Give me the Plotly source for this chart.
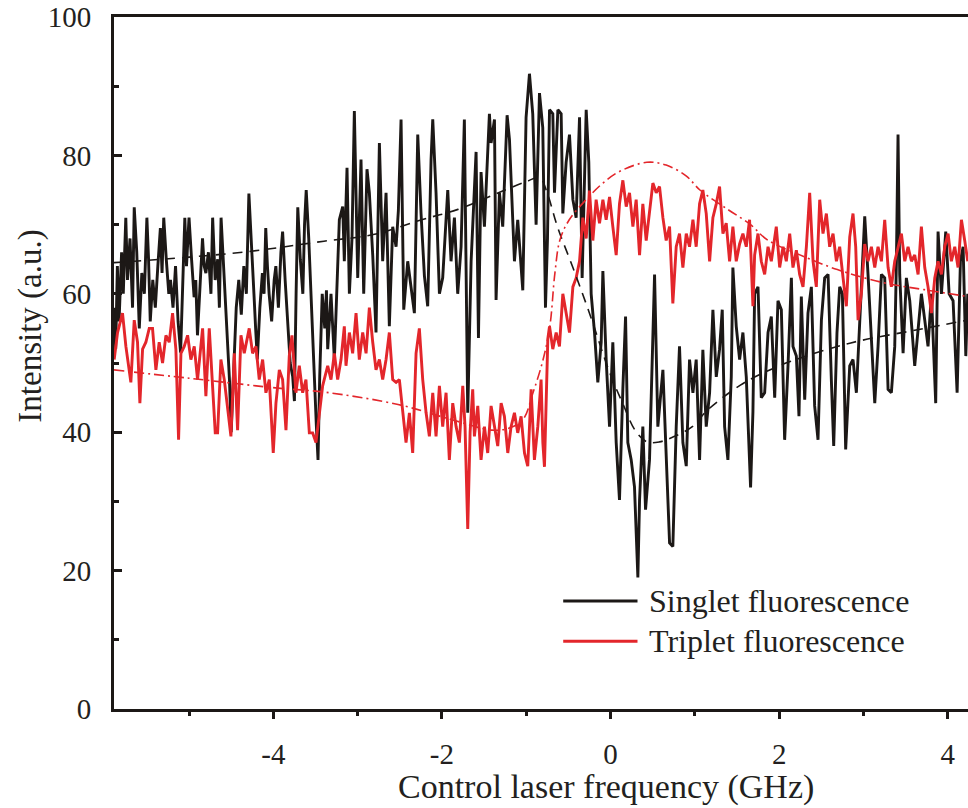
import plotly.graph_objects as go

# ---------------- data ----------------
singlet_x = [
    -5.89, -5.87, -5.85, -5.83, -5.80, -5.78, -5.75, -5.73, -5.70, -5.67, -5.65, -5.62, -5.59, -5.56,
    -5.53, -5.50, -5.48, -5.46, -5.43, -5.40, -5.37, -5.34, -5.32, -5.30, -5.27, -5.24, -5.22, -5.19,
    -5.16, -5.13, -5.10, -5.08, -5.05, -5.03, -5.00, -4.97, -4.94, -4.92, -4.90, -4.87, -4.84, -4.82,
    -4.80, -4.77, -4.74, -4.72, -4.69, -4.66, -4.64, -4.62, -4.60, -4.58, -4.55, -4.52, -4.50, -4.47,
    -4.44, -4.41, -4.38, -4.35, -4.32, -4.29, -4.26, -4.23, -4.21, -4.19, -4.16, -4.13, -4.11, -4.09,
    -4.07, -4.05, -4.02, -3.99, -3.97, -3.94, -3.91, -3.89, -3.86, -3.83, -3.80, -3.77, -3.75, -3.73,
    -3.71, -3.68, -3.65, -3.63, -3.61, -3.58, -3.55, -3.52, -3.49, -3.47, -3.45, -3.42, -3.39, -3.37,
    -3.355, -3.316, -3.276, -3.217, -3.177, -3.158, -3.126, -3.098, -3.067, -3.039, -2.999, -2.960,
    -2.928, -2.889, -2.861, -2.821, -2.782, -2.742, -2.703, -2.663, -2.624, -2.584, -2.544, -2.517,
    -2.485, -2.453, -2.406, -2.366, -2.327, -2.287, -2.248, -2.208, -2.169, -2.129, -2.109, -2.070,
    -2.030, -1.991, -1.931, -1.892, -1.852, -1.813, -1.773, -1.734, -1.694, -1.654, -1.595, -1.567,
    -1.536, -1.496, -1.437, -1.417, -1.377, -1.358, -1.318, -1.279, -1.227, -1.199, -1.160, -1.140,
    -1.101, -1.041, -1.002, -0.962, -0.923, -0.883, -0.843, -0.804,
    -0.772, -0.748, -0.724, -0.685, -0.665, -0.625, -0.586, -0.566, -0.527, -0.487, -0.447, -0.408,
    -0.368, -0.337, -0.289, -0.258, -0.230, -0.190, -0.151, -0.111, -0.091, -0.052, -0.012, 0.027,
    0.067, 0.106, 0.146, 0.178, 0.205, 0.245, 0.284, 0.324, 0.344, 0.383, 0.415, 0.462, 0.522, 0.561,
    0.621, 0.660, 0.700, 0.739, 0.779, 0.818, 0.858, 0.898, 0.937, 0.977, 1.016, 1.056, 1.095, 1.135,
    1.175, 1.214, 1.254, 1.293, 1.325, 1.353, 1.392, 1.432, 1.451, 1.491, 1.531, 1.570, 1.610, 1.661,
    1.689, 1.709, 1.749, 1.788, 1.828, 1.868, 1.907, 1.947, 1.986, 2.026, 2.065, 2.105, 2.145, 2.164,
    2.204, 2.235, 2.263, 2.303, 2.342, 2.382, 2.421, 2.461, 2.501, 2.540, 2.580, 2.619, 2.647, 2.686,
    2.718, 2.750, 2.789, 2.837, 2.876, 2.916, 2.955, 3.015, 3.054, 3.094, 3.134, 3.173, 3.213, 3.252,
    3.292, 3.331, 3.371, 3.391, 3.410, 3.430, 3.470, 3.509, 3.549, 3.608, 3.648, 3.687, 3.727, 3.766,
    3.806, 3.857, 3.885, 3.925, 3.976, 4.016, 4.063, 4.111, 4.150, 4.182, 4.214, 4.237,
]
singlet_y = [
    58, 52, 64, 56, 66, 60, 71, 62, 68, 58, 72.5, 66, 55, 63,
    60, 71, 65, 56, 62, 58, 64, 69.5, 63, 71, 65, 60, 62, 58,
    64, 56, 51.5, 60, 71, 64, 71, 65, 59.5, 62, 54, 61, 68, 64,
    63, 66, 60, 71, 62, 65, 58, 71, 66, 62.5, 55, 47.5, 40, 50,
    58, 62, 57, 64, 60, 74.5, 66, 60, 55, 50.5, 58, 63, 60, 69.5,
    64, 60, 56, 62, 64, 58, 66, 69, 62, 55, 50, 48, 44.5, 60,
    72.5, 65, 60, 70, 75, 68, 60, 50, 41, 36, 48, 60, 55, 60.5,
    52, 60, 50.5, 70.7, 72.6, 64.7, 78.2, 60, 68, 86.4, 62.3, 79.4,
    60, 78, 74.6, 65.6, 54.4, 81.8, 64.7, 74.6, 55.3, 69.7, 66.8, 72,
    85.2, 57.7, 64.7, 61, 57.2, 83, 71.6, 62.6, 58.2, 79.4, 85.2, 74.6,
    60, 62.3, 75, 64.7, 71, 60, 66.8, 85.2, 42.8, 64.7, 80.5, 53.6,
    77.6, 69.7, 86, 81.8, 85.2, 59.1, 74.6, 69.7, 85.8, 82.3, 71.6, 64.7,
    70.7, 60.5, 85.5, 91.8, 86, 70, 89, 84,
    58, 68, 86.6, 86, 74.6, 86.6, 86, 71.6, 79, 83, 73.6, 71,
    85.5, 62.3, 86.6, 79, 60, 54.4, 47.2, 53, 63.3, 50.5, 40.8, 53,
    38.5, 30.2, 46.3, 56.7, 38.5, 36, 32.1, 19, 30.2, 40.8, 28.8, 36, 62.8, 40.8,
    49, 36, 24, 23.5, 40.8, 52.4, 38.5, 35.1, 50.5, 45.7, 50.5, 36, 51.9, 40.8,
    45.7, 57.7, 48, 52, 57.7, 40.8, 36, 48, 63.8, 55.3, 50.5, 54.4, 48, 32,
    43, 60, 61, 45, 45.7, 54.4, 56.7, 45, 59, 57.7, 38.9, 49.6, 62.3, 52.4,
    51, 42.3, 59.6, 44.7, 57.2, 61, 43.8, 38.9, 56.2, 62.3, 62.8, 47.6, 38, 54.4,
    61, 60, 37.5, 49.6, 50.5, 45.7, 56.2, 71.2, 62.8, 52.4, 44.2, 52.4, 62.8, 62.3,
    46.2, 45.7, 52.4, 64.7, 83, 62.8, 51.4, 62.3, 59, 49.6, 55.3, 60, 56.2, 52.4,
    60, 44.2, 69, 60, 69, 60, 59, 45.7, 64.7, 66.8, 51, 60,
]

triplet_x = [
    -5.888, -5.848, -5.789, -5.749, -5.690, -5.650, -5.611, -5.583, -5.551, -5.512, -5.472, -5.433,
    -5.393, -5.354, -5.314, -5.274, -5.235, -5.195, -5.156, -5.124, -5.096, -5.057, -5.017, -4.978,
    -4.938, -4.899, -4.839, -4.800, -4.760, -4.721, -4.689, -4.661, -4.622, -4.582, -4.543, -4.503,
    -4.463, -4.424, -4.384, -4.345, -4.286, -4.246, -4.206, -4.167, -4.127, -4.088, -4.048, -4.001,
    -3.969, -3.929, -3.890, -3.850, -3.811, -3.779, -3.732, -3.692, -3.652, -3.613, -3.573, -3.534,
    -3.494, -3.455, -3.415,
    -3.355, -3.316, -3.276, -3.237, -3.197, -3.158, -3.138, -3.098, -3.059, -3.019, -2.980, -2.940,
    -2.900, -2.861, -2.821, -2.782, -2.742, -2.703, -2.663, -2.624, -2.584, -2.544, -2.505, -2.465,
    -2.426, -2.386, -2.347, -2.307, -2.268, -2.228, -2.188, -2.149, -2.109, -2.070, -2.030, -1.991,
    -1.951, -1.912, -1.872, -1.832, -1.793, -1.753, -1.726, -1.694, -1.666, -1.635, -1.615, -1.575,
    -1.536, -1.496, -1.457, -1.417, -1.377, -1.338, -1.298, -1.259, -1.219, -1.180, -1.140, -1.101,
    -1.061, -1.021, -0.982, -0.942, -0.903, -0.863, -0.824,
    -0.803, -0.784, -0.764, -0.744, -0.724, -0.685, -0.645, -0.606, -0.566, -0.527, -0.487, -0.447,
    -0.408, -0.368, -0.329, -0.289, -0.250, -0.210, -0.171, -0.131, -0.091, -0.052, -0.012, 0.027,
    0.067, 0.106, 0.146, 0.186, 0.225, 0.265, 0.304, 0.344, 0.383, 0.423, 0.462, 0.502, 0.542, 0.581,
    0.621, 0.660, 0.700, 0.739, 0.779, 0.818, 0.858, 0.898, 0.937, 0.977, 1.016, 1.056, 1.095, 1.135,
    1.175, 1.214, 1.254, 1.293, 1.333, 1.372, 1.412, 1.451, 1.491, 1.531, 1.570, 1.610, 1.649, 1.689,
    1.709, 1.749, 1.788, 1.828, 1.868, 1.907, 1.966, 2.006, 2.046, 2.085, 2.125, 2.164, 2.204, 2.243,
    2.283, 2.323, 2.362, 2.402, 2.441, 2.481, 2.520, 2.560, 2.599, 2.639, 2.679, 2.718, 2.758, 2.797,
    2.837, 2.876, 2.908, 2.936, 2.975, 3.015, 3.054, 3.094, 3.134, 3.173, 3.213, 3.252, 3.292, 3.331,
    3.371, 3.410, 3.450, 3.490, 3.529, 3.569, 3.608, 3.648, 3.687, 3.727, 3.766, 3.806, 3.846, 3.885,
    3.925, 3.964, 4.004, 4.043, 4.083, 4.122, 4.162, 4.201, 4.237,
]
triplet_y = [
    50.5, 54.4, 57.2, 52.4, 47.2, 56.2, 53, 44.2, 52, 53, 55, 55,
    49, 53, 50, 54, 53, 57.2, 52, 38.9, 51.4, 52.4, 54, 50.5,
    52.4, 47.6, 55, 45.2, 55, 47.6, 39.9, 39.9, 50.5, 47.6, 43.8, 39.4,
    51.4, 40.3, 54, 51.4, 55, 51.4, 52.4, 47.6, 50.5, 45.7, 47.6, 37,
    44.2, 49, 47.6, 40.3, 51, 54, 45.7, 49.6, 45.7, 47.6, 39.9, 39.9,
    38.5, 42.8, 46.7,
    49.6, 47.6, 51.4, 47.6, 50.5, 55.3, 49.6, 54.4, 51.4, 57.2, 50.5, 54.4,
    51.4, 58, 53, 49, 50.5, 47.6, 50.5, 54.4, 47.6, 47.2, 47.6, 42.8,
    38.5, 42.8, 37, 51.4, 55, 47.6, 42.8, 39.4, 45.7, 39.4, 46.7, 40.8,
    45.7, 36, 44.2, 40.8, 38.5, 46.7, 40.8, 26, 40, 46.2, 39.4, 43.8,
    36, 40.8, 37, 43.8, 40.8, 38, 44.2, 42.3, 37, 40.8, 42.8, 39.9,
    42.3, 37, 35.1, 46.2, 36, 40.8, 47.6,
    38.5, 35, 43.8, 53.5, 55.3, 52, 54.4, 52.4, 60, 57.2, 54.4, 61,
    62.3, 64.7, 71, 68, 74.9, 67.7, 73.6, 70.2, 73.6, 70.7, 74, 69.7,
    65.6, 73, 76.4, 72.6, 74.6, 69.7, 73.6, 65.6, 73, 67.7, 71.6, 76, 74.6, 75.5,
    71, 67.7, 69.7, 58.6, 66.8, 68.7, 63.8, 68.7, 66.8, 70.7, 66.8, 73, 75, 71.6,
    64.7, 71, 73, 75.5, 68.7, 70.2, 64.7, 69.7, 64.7, 67.2, 68.7, 66.8, 70.7, 58.2,
    65.6, 68.7, 64.7, 62.8, 66.8, 64.7, 69.7, 63.8, 66.8, 64.7, 68.7, 63.8, 66.3, 62.8,
    61, 66.8, 74.6, 64.7, 61, 73.6, 68.7, 71.6, 66.8, 68.7, 64.7, 66.8, 62.3, 58.2,
    68.2, 71.6, 66.8, 56.2, 60, 67.2, 64.7, 66.8, 63.8, 66.8, 64.7, 70.7, 63.8, 61,
    64.7, 66.8, 68.7, 64.7, 66.8, 64.7, 65.6, 62.8, 69.7, 63.8, 61, 57.2, 62.3, 64.7,
    62.8, 66.8, 68.7, 64.7, 66.8, 63.8, 70.7, 67.7, 64.7,
]

# fitted curves
singlet_fit_x = [-5.89, -5.0, -4.3, -3.4, -2.8, -2.24, -1.81, -1.25, -1.0, -0.84, -0.75, -0.63, -0.45,
                 -0.25, -0.01, 0.15, 0.29, 0.43, 0.58, 0.74, 0.97, 1.15, 1.54, 1.8, 2.13, 2.85, 3.64, 4.24]
singlet_fit_y = [64.5, 65.3, 66.1, 67.6, 68.6, 70.7, 72.2, 75, 76.2, 76.8, 74.5, 69.7, 63.9,
                 57.2, 48.6, 44, 40.3, 38.6, 38.6, 39.3, 40.8, 43.2, 46.8, 48.5, 50.2, 52.9, 54.8, 56.2]

triplet_fit_x = [-5.89, -5.0, -3.97, -3.4, -2.52, -1.88, -1.41, -1.2, -1.04, -0.92, -0.8, -0.72, -0.66,
                 -0.6, -0.49, -0.29, -0.09, 0.11, 0.43, 0.66, 0.9, 1.06, 1.39, 1.66, 1.86, 2.29, 2.69,
                 3.24, 3.72, 4.24]
triplet_fit_y = [49, 47.8, 46.4, 45.8, 44, 41.8, 40.3, 40.6, 41.8, 45.7, 50.5, 55.3, 63,
                 67.8, 70.7, 73.6, 76, 77.7, 79, 78.6, 77, 75, 72.2, 70, 67.8, 65.4, 63.5,
                 61.6, 60.6, 59.6]

x_ticks = [-4, -2, 0, 2, 4]
y_ticks = [0, 20, 40, 60, 80, 100]
legend_labels = ["Singlet fluorescence", "Triplet fluorescence"]

# ---------------- styling ----------------
BLACK = "#1c1816"
RED = "#e3262b"
FONT = "Liberation Serif"

fig = go.Figure()
fig.add_trace(go.Scatter(x=singlet_x, y=singlet_y, mode="lines",
                         line=dict(color=BLACK, width=2.9), name=legend_labels[0]))
fig.add_trace(go.Scatter(x=triplet_x, y=triplet_y, mode="lines",
                         line=dict(color=RED, width=2.9), name=legend_labels[1]))
fig.add_trace(go.Scatter(x=singlet_fit_x, y=singlet_fit_y, mode="lines", line_shape="spline",
                         line=dict(color=BLACK, width=1.6, dash="10px,7px"), showlegend=False))
fig.add_trace(go.Scatter(x=triplet_fit_x, y=triplet_fit_y, mode="lines", line_shape="spline",
                         line=dict(color=RED, width=1.6, dash="10px,4px,2px,4px"), showlegend=False))

# legend drawn as line samples + labels
leg_rows = [(0.156, BLACK, legend_labels[0]), (0.098, RED, legend_labels[1])]
for yy, col, lab in leg_rows:
    fig.add_shape(type="line", xref="paper", yref="paper", x0=0.526, x1=0.613, y0=yy, y1=yy,
                  line=dict(color=col, width=3))
    fig.add_annotation(xref="paper", yref="paper", x=0.624, y=yy, text=lab, showarrow=False,
                       xanchor="left", yanchor="middle", font=dict(family=FONT, size=32, color="#231f20"))

# axis titles
fig.add_annotation(xref="paper", yref="paper", x=0.576, y=-0.113, text="Control laser frequency (GHz)",
                   showarrow=False, xanchor="center", yanchor="middle",
                   font=dict(family=FONT, size=34, color="#231f20"))
fig.add_annotation(xref="paper", yref="paper", x=-0.098, y=0.553, text="Intensity (a.u.)",
                   showarrow=False, textangle=-90, xanchor="center", yanchor="middle",
                   font=dict(family=FONT, size=33, color="#231f20"))

fig.update_layout(
    width=968, height=808,
    margin=dict(l=114, r=0, t=17, b=99),
    paper_bgcolor="white", plot_bgcolor="white",
    showlegend=False,
    font=dict(family=FONT, color="#231f20"),
)
fig.update_xaxes(
    range=[-5.89, 4.24], tickvals=x_ticks, ticktext=[str(v) for v in x_ticks],
    showgrid=False, zeroline=False,
    showline=True, linecolor=BLACK, linewidth=3, mirror=True,
    ticks="outside", ticklen=7, tickwidth=3, tickcolor=BLACK,
    minor=dict(dtick=1, tick0=0, ticks="outside", ticklen=4, tickwidth=3, tickcolor=BLACK),
    tickfont=dict(family=FONT, size=29, color="#231f20"),
    ticklabelstandoff=10,
)
fig.update_yaxes(
    range=[0, 100], tickvals=y_ticks, ticktext=[str(v) for v in y_ticks],
    showgrid=False, zeroline=False,
    showline=True, linecolor=BLACK, linewidth=3, mirror=False,
    ticks="inside", ticklen=8, tickwidth=3, tickcolor=BLACK,
    minor=dict(dtick=10, tick0=0, ticks="inside", ticklen=5, tickwidth=3, tickcolor=BLACK),
    tickfont=dict(family=FONT, size=29, color="#231f20"),
    ticklabelstandoff=14,
)

fig.write_html("out.html")
